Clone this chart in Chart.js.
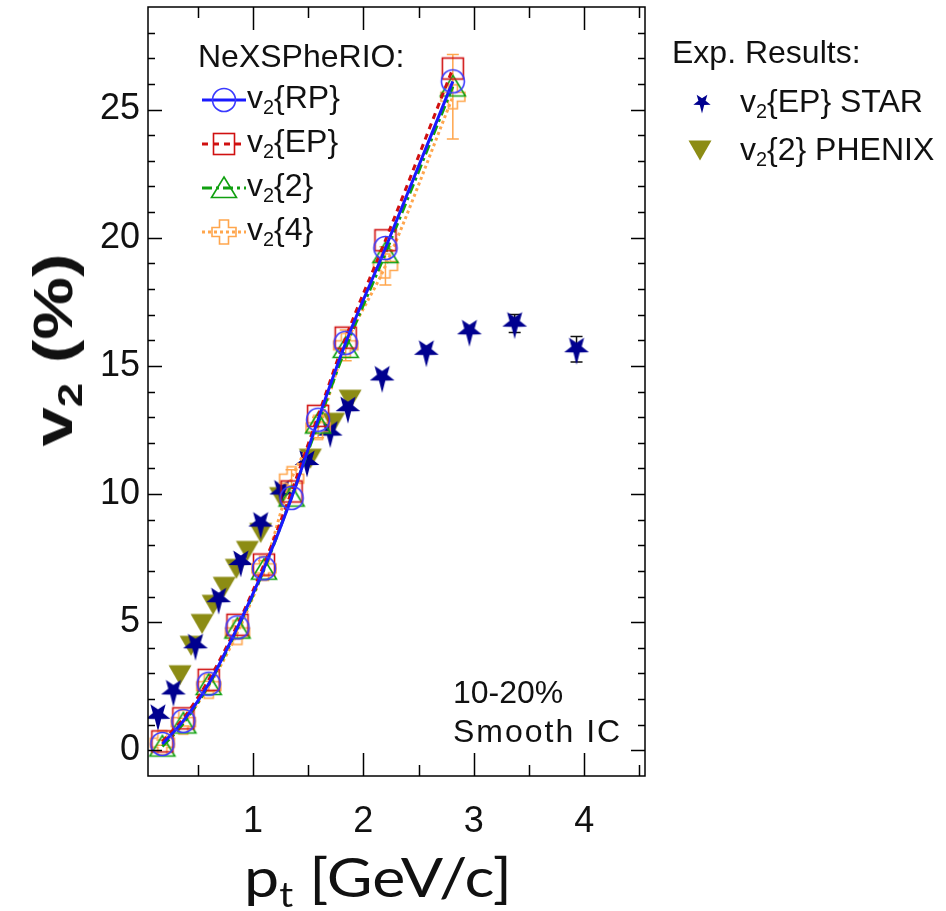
<!DOCTYPE html>
<html>
<head>
<meta charset="utf-8">
<script src="https://cdn.jsdelivr.net/npm/chart.js@4.4.0/dist/chart.umd.min.js"></script>
<style>
body { margin: 0; background: #fff; }
#wrap { position: relative; width: 946px; height: 911px; font-family: "Liberation Sans", Arial, sans-serif; color: #111; }
#wrap canvas { position: absolute; left: 0; top: 0; }
.t { position: absolute; white-space: nowrap; font-size: 32px; line-height: 1; }
.t sub { font-size: 0.62em; vertical-align: -0.3em; line-height: 0; }
#ytitle { left: 53px; top: 350px; font-size: 56px; font-weight: bold; transform: translate(-50%, -50%) rotate(-90deg) scale(1.26, 1); }
#xtitle { left: 378px; top: 849px; font-family: Lato, "Open Sans", sans-serif; font-size: 55px; transform: translateX(-50%) scale(1.14, 1); }
</style>
</head>
<body>
<div id="wrap">
  <canvas id="chart" width="946" height="911"></canvas>
  <div class="t" style="left:198px;top:40px">NeXSPheRIO:</div>
  <div class="t" style="left:247px;top:81px">v<sub>2</sub>{RP}</div>
  <div class="t" style="left:247px;top:125px">v<sub>2</sub>{EP}</div>
  <div class="t" style="left:247px;top:169px">v<sub>2</sub>{2}</div>
  <div class="t" style="left:247px;top:213px">v<sub>2</sub>{4}</div>
  <div class="t" style="left:672px;top:36px">Exp. Results:</div>
  <div class="t" style="left:740px;top:85px">v<sub>2</sub>{EP} STAR</div>
  <div class="t" style="left:740px;top:133px">v<sub>2</sub>{2} PHENIX</div>
  <div class="t" style="left:453px;top:676px">10-20%</div>
  <div class="t" style="left:453px;top:715px;letter-spacing:2px">Smooth IC</div>
  <div class="t" id="ytitle">v<sub>2</sub> (%)</div>
  <div class="t" id="xtitle">p<sub>t</sub> [GeV/c]</div>
</div>
<script>
// NeXSPheRIO (model) points, pt in GeV/c, v2 in %
const modelPt = [0.18, 0.37, 0.60, 0.86, 1.10, 1.35, 1.59, 1.84, 2.20, 2.81];
const v2RP   = [0.25, 1.15, 2.60, 4.80, 7.10, 9.85, 12.90, 15.90, 19.60, 26.10];
const v2EP   = [0.35, 1.25, 2.75, 4.90, 7.25, 10.10, 13.05, 16.10, 19.90, 26.60];
const v2Two  = [0.15, 1.05, 2.55, 4.75, 7.05, 9.90, 12.75, 15.70, 19.40, 25.90];
const v2Four = [0.30, 1.10, 2.50, 4.60, 7.10, 10.60, 12.60, 15.80, 18.90, 25.50];
const v2FourErr = [0.10, 0.15, 0.20, 0.25, 0.30, 0.35, 0.40, 0.60, 0.75, 1.65];

// experimental data
const starPt  = [0.14, 0.28, 0.48, 0.69, 0.89, 1.07, 1.26, 1.49, 1.70, 1.86, 2.17, 2.57, 2.96, 3.37, 3.93];
const starV2  = [1.35, 2.30, 4.10, 5.90, 7.35, 8.85, 10.10, 11.25, 12.40, 13.35, 14.55, 15.55, 16.35, 16.65, 15.65];
const starErr = [0, 0, 0, 0, 0, 0, 0, 0, 0, 0, 0, 0, 0, 0.35, 0.50];
const phenixPt = [0.34, 0.44, 0.54, 0.64, 0.74, 0.85, 0.95, 1.07, 1.25, 1.52, 1.73, 1.88];
const phenixV2 = [2.95, 4.10, 4.95, 5.70, 6.40, 7.10, 7.80, 8.50, 9.90, 11.40, 12.80, 13.70];

// axes
const xTicks = [1, 2, 3, 4];
const yTicks = [0, 5, 10, 15, 20, 25];

const blue = '#1a1aff', red = '#d01010', green = '#10a010', orange = '#ffa64d';
const navy = '#00008f', olive = '#8c8c14';

// marker images
function mk(size, draw) {
    const c = document.createElement('canvas');
    c.width = size; c.height = size;
    const g = c.getContext('2d');
    draw(g, size / 2);
    return c;
}
const circleImg = mk(28, (g, c) => {
    g.strokeStyle = '#3a3aff'; g.lineWidth = 1.6;
    g.beginPath(); g.arc(c, c, 11.5, 0, Math.PI * 2); g.stroke();
});
const squareImg = mk(28, (g, c) => {
    g.strokeStyle = red; g.lineWidth = 1.6;
    g.strokeRect(c - 10.5, c - 10.5, 21, 21);
});
const triImg = mk(30, (g, c) => {
    g.strokeStyle = green; g.lineWidth = 1.6;
    g.beginPath(); g.moveTo(c, c - 11); g.lineTo(c + 12.5, c + 9.5); g.lineTo(c - 12.5, c + 9.5); g.closePath(); g.stroke();
});
const crossImg = mk(30, (g, c) => {
    const a = 12, b = 4.5;
    const p = [[-b, -a], [b, -a], [b, -b], [a, -b], [a, b], [b, b], [b, a], [-b, a], [-b, b], [-a, b], [-a, -b], [-b, -b]];
    g.strokeStyle = orange; g.lineWidth = 1.6;
    g.beginPath();
    p.forEach(([dx, dy], i) => i ? g.lineTo(c + dx, c + dy) : g.moveTo(c + dx, c + dy));
    g.closePath(); g.stroke();
});
function starPath(g, cx, cy, s) {
    g.beginPath();
    for (let i = 0; i < 10; i++) {
        const ang = Math.PI / 2 + i * Math.PI / 5;
        let r = i % 2 ? 5.4 * s : 13 * s;
        if (i === 0) r = 16.5 * s; // long bottom point
        const px = cx + r * Math.cos(ang), py = cy + r * Math.sin(ang);
        i ? g.lineTo(px, py) : g.moveTo(px, py);
    }
    g.closePath();
}
const starImg = mk(36, (g, c) => {
    g.fillStyle = navy;
    starPath(g, c, c - 1, 1);
    g.fill();
});
const starSmallImg = mk(24, (g, c) => {
    g.fillStyle = navy;
    starPath(g, c, c - 1, 0.7);
    g.fill();
});
const triDownImg = mk(28, (g, c) => {
    g.fillStyle = olive;
    g.beginPath(); g.moveTo(c - 11.5, c - 9.5); g.lineTo(c + 11.5, c - 9.5); g.lineTo(c, c + 10.5); g.closePath(); g.fill();
});

const pts = (xs, ys) => xs.map((x, i) => ({ x: x, y: ys[i] }));

const modelLine = (label, ys, color, dash, img, errs) => ({
    label: label,
    data: pts(modelPt, ys),
    errors: errs,
    errColor: color,
    showLine: true,
    borderColor: color,
    borderWidth: 3,
    borderDash: dash,
    cubicInterpolationMode: 'monotone',
    pointStyle: img,
    pointRadius: 12,
    backgroundColor: 'transparent'
});

// frame with ROOT style ticks on all four sides
const frameTicks = {
    id: 'frameTicks',
    afterDraw(chart) {
        const { ctx, chartArea: a, scales: { x, y } } = chart;
        ctx.save();
        ctx.strokeStyle = '#000';
        ctx.lineWidth = 1.5;
        ctx.strokeRect(a.left, a.top, a.right - a.left, a.bottom - a.top);
        ctx.beginPath();
        for (let v = 0.5; v <= 4.5; v += 0.5) {
            const px = Math.round(x.getPixelForValue(v)) + 0.5;
            const len = Number.isInteger(v) ? 23 : 11;
            ctx.moveTo(px, a.bottom); ctx.lineTo(px, a.bottom - len);
            ctx.moveTo(px, a.top); ctx.lineTo(px, a.top + len);
        }
        for (let v = 0; v <= 28; v++) {
            const py = Math.round(y.getPixelForValue(v)) + 0.5;
            const len = v % 5 === 0 ? 14 : 7;
            ctx.moveTo(a.left, py); ctx.lineTo(a.left + len, py);
            ctx.moveTo(a.right, py); ctx.lineTo(a.right - len, py);
        }
        ctx.stroke();
        ctx.restore();
    }
};

// vertical error bars
const errorBars = {
    id: 'errorBars',
    beforeDatasetsDraw(chart) {
        const { ctx, scales: { y } } = chart;
        ctx.save();
        ctx.lineWidth = 1.5;
        chart.data.datasets.forEach((ds, i) => {
            if (!ds.errors) return;
            const meta = chart.getDatasetMeta(i);
            ctx.strokeStyle = ds.errColor;
            meta.data.forEach((el, j) => {
                const e = ds.errors[j];
                if (!e) return;
                const v = ds.data[j].y;
                const top = y.getPixelForValue(v + e), bot = y.getPixelForValue(v - e);
                ctx.beginPath();
                ctx.moveTo(el.x, top); ctx.lineTo(el.x, bot);
                ctx.moveTo(el.x - 6, top); ctx.lineTo(el.x + 6, top);
                ctx.moveTo(el.x - 6, bot); ctx.lineTo(el.x + 6, bot);
                ctx.stroke();
            });
        });
        ctx.restore();
    }
};

// legend symbols (the labels are html text)
const legendMarks = {
    id: 'legendMarks',
    afterDraw(chart) {
        const ctx = chart.ctx;
        const rows = [
            [blue, [], circleImg, 100],
            [red, [6, 5], squareImg, 144],
            [green, [10, 4, 3, 4], triImg, 188],
            [orange, [3, 3], crossImg, 232]
        ];
        ctx.save();
        rows.forEach(([col, dash, img, yy]) => {
            ctx.strokeStyle = col; ctx.lineWidth = 3; ctx.setLineDash(dash);
            ctx.beginPath(); ctx.moveTo(202, yy); ctx.lineTo(246, yy); ctx.stroke();
            ctx.drawImage(img, 224 - img.width / 2, yy - img.height / 2);
        });
        ctx.drawImage(starSmallImg, 702 - 12, 103 - 12);
        ctx.drawImage(triDownImg, 700 - 14, 150 - 14);
        ctx.restore();
    }
};

const tickFont = { family: '"Liberation Sans", Arial, sans-serif', size: 36 };

new Chart(document.getElementById('chart'), {
    type: 'scatter',
    data: {
        datasets: [
            modelLine('v2{RP}', v2RP, blue, [], circleImg),
            modelLine('v2{EP}', v2EP, red, [6, 5], squareImg),
            modelLine('v2{2}', v2Two, green, [10, 4, 3, 4], triImg),
            modelLine('v2{4}', v2Four, orange, [3, 3], crossImg, v2FourErr),
            {
                label: 'v2{EP} STAR',
                data: pts(starPt, starV2),
                errors: starErr,
                errColor: '#111',
                pointStyle: starImg,
                pointRadius: 14
            },
            {
                label: 'v2{2} PHENIX',
                data: pts(phenixPt, phenixV2),
                pointStyle: triDownImg,
                pointRadius: 12
            }
        ]
    },
    options: {
        responsive: false,
        animation: false,
        events: [],
        layout: { autoPadding: false, padding: { left: 0, right: 301, top: 7, bottom: 0 } },
        plugins: { legend: { display: false }, tooltip: { enabled: false } },
        scales: {
            x: {
                type: 'linear',
                min: 0.05,
                max: 4.55,
                grid: { display: false, drawTicks: false },
                border: { display: false },
                ticks: { font: tickFont, color: '#111', padding: 24, maxRotation: 0 },
                afterBuildTicks: (s) => { s.ticks = xTicks.map(v => ({ value: v })); },
                afterFit: (s) => { s.height = 135; s.paddingLeft = 0; s.paddingRight = 0; }
            },
            y: {
                type: 'linear',
                min: -1,
                max: 29,
                grid: { display: false, drawTicks: false },
                border: { display: false },
                ticks: { font: tickFont, color: '#111', padding: 8 },
                afterBuildTicks: (s) => { s.ticks = yTicks.map(v => ({ value: v })); },
                afterFit: (s) => { s.width = 148; s.paddingTop = 0; s.paddingBottom = 0; }
            }
        }
    },
    plugins: [frameTicks, errorBars, legendMarks]
});
</script>
</body>
</html>
